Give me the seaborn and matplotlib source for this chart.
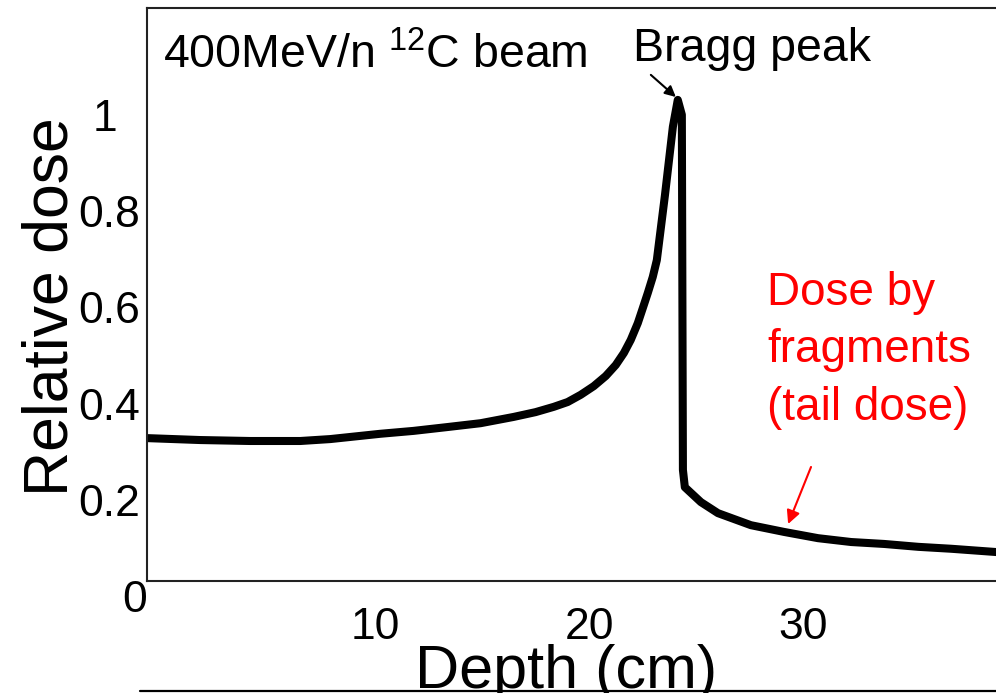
import numpy as np
import pandas as pd
import seaborn as sns
import matplotlib
matplotlib.use("Agg")
import matplotlib.pyplot as plt
from matplotlib.lines import Line2D
from matplotlib.transforms import ScaledTranslation

# ---- data ----
depth_cm = [0.00, 2.48, 4.82, 7.17, 8.57, 10.91, 12.46, 14.05, 15.60, 17.14,
            18.17, 19.02, 19.67, 20.28, 20.89, 21.45, 21.92, 22.30, 22.62,
            22.95, 23.19, 23.42, 23.65, 23.84, 24.22, 24.59, 24.82, 25.01,
            25.06, 25.15, 25.90, 26.70, 28.24, 29.79, 31.38, 32.93, 34.47,
            36.07, 37.61, 39.77]
rel_dose = [0.297, 0.293, 0.291, 0.291, 0.295, 0.306, 0.312, 0.320, 0.328, 0.341,
            0.351, 0.362, 0.372, 0.387, 0.405, 0.426, 0.449, 0.474, 0.501,
            0.536, 0.568, 0.599, 0.632, 0.667, 0.802, 0.944, 1.000, 0.969,
            0.231, 0.195, 0.164, 0.141, 0.116, 0.102, 0.089, 0.081, 0.077,
            0.071, 0.067, 0.060]
x_ticks = [10, 20, 30]
x_tick_labels = ["10", "20", "30"]
y_ticks = [0, 0.2, 0.4, 0.6, 0.8, 1.0]
y_tick_labels = ["0", "0.2", "0.4", "0.6", "0.8", "1"]

title_text = "400MeV/n $\\mathregular{^{12}}$C beam"
peak_text = "Bragg peak"
tail_lines = ["Dose by", "fragments", "(tail dose)"]
x_label = "Depth (cm)"
y_label = "Relative dose"

df = pd.DataFrame({"depth": depth_cm, "dose": rel_dose})

sns.set_theme(style="white")
plt.rcParams["font.family"] = ["Liberation Sans", "DejaVu Sans"]
plt.rcParams["mathtext.fontset"] = "custom"
plt.rcParams["mathtext.rm"] = "Liberation Sans"

W, H = 996, 693
fig = plt.figure(figsize=(W / 100, H / 100), dpi=100)
fig.patch.set_facecolor("white")

def fx(px):
    return px / W

def fy(py):
    return 1 - py / H

ax = fig.add_axes([fx(147), fy(581), fx(996) - fx(147), fy(8) - fy(581)])
ax.set_facecolor("white")

sns.lineplot(data=df, x="depth", y="dose", ax=ax, color="black",
             linewidth=5.8, sort=False, estimator=None, legend=False)
for ln in ax.get_lines():
    ln.set_solid_joinstyle("round")
    ln.set_solid_capstyle("butt")

ax.set_xlim(0, 39.7)
ax.set_ylim(0, 1.191)
ax.set_xlabel("")
ax.set_ylabel("")

for side in ["left", "top", "bottom"]:
    ax.spines[side].set_visible(True)
    ax.spines[side].set_color("#222222")
    ax.spines[side].set_linewidth(1.5)
ax.spines["right"].set_visible(False)

ax.set_xticks(x_ticks)
ax.set_xticklabels(x_tick_labels)
ax.set_yticks(y_ticks)
ax.set_yticklabels(y_tick_labels)
ax.tick_params(axis="both", length=0, labelsize=32, colors="black")
ax.tick_params(axis="x", pad=19)
ax.tick_params(axis="y", pad=5)

# tick label offsets as in the reference
for t in ax.xaxis.get_major_ticks():
    t.label1.set_transform(t.label1.get_transform() +
                           ScaledTranslation(14.5 / 100, 0, fig.dpi_scale_trans))
yt = ax.yaxis.get_major_ticks()
for i, t in enumerate(yt):
    dx = 0.0
    if i == 0:
        dx = 7 / 100
    elif i == len(yt) - 1:
        dx = -23 / 100
    t.label1.set_transform(t.label1.get_transform() +
                           ScaledTranslation(dx, -15 / 100, fig.dpi_scale_trans))

# texts
fig.text(fx(163), fy(68), title_text, fontsize=33.5, ha="left", va="baseline",
         color="black")
fig.text(fx(633), fy(61), peak_text, fontsize=33.5, ha="left", va="baseline",
         color="black")
for i, line in enumerate(tail_lines):
    fig.text(fx(767), fy(305 + i * 57.5), line, fontsize=33, ha="left",
             va="baseline", color="red")

fig.text(fx(68), fy(307), y_label, fontsize=45, rotation=90,
         rotation_mode="anchor", ha="center", va="baseline", color="black")
fig.text(fx(415), fy(688), x_label, fontsize=44, ha="left", va="baseline",
         color="black")

# arrows
ax.annotate("", xy=(24.73, 1.006), xytext=(23.56, 1.052),
            arrowprops=dict(arrowstyle="-|>", color="black", lw=1.5,
                            mutation_scale=16, shrinkA=0, shrinkB=0))
ax.annotate("", xy=(29.98, 0.1185), xytext=(31.05, 0.237),
            arrowprops=dict(arrowstyle="-|>", color="red", lw=1.5,
                            mutation_scale=20, shrinkA=0, shrinkB=0))

# bottom rule line
fig.add_artist(Line2D([fx(140), 1.0], [fy(690.5), fy(690.5)],
                      transform=fig.transFigure, color="black", lw=1.6))

fig.savefig("out.png", dpi=100, facecolor="white")
